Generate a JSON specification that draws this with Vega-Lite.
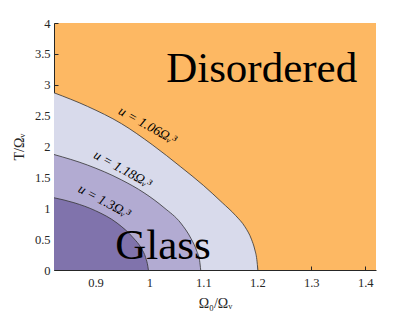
{
  "$schema": "https://vega.github.io/schema/vega-lite/v6.json",
  "autosize": {"type": "none"},
  "width": 322,
  "height": 247,
  "padding": {"left": 54, "top": 23, "right": 39, "bottom": 42},
  "background": "white",
  "view": {"fill": "#FDB863", "stroke": null},
  "config": {
    "font": "Liberation Serif",
    "axis": {
      "labelFont": "Liberation Serif",
      "titleFont": "Liberation Serif",
      "labelFontSize": 12.5,
      "titleFontSize": 14,
      "titleFontWeight": "normal",
      "labelColor": "#262626",
      "titleColor": "#262626",
      "domainColor": "#262626",
      "tickColor": "#262626",
      "tickSize": -4,
      "grid": false
    }
  },
  "datasets": {
    "curves": [
      {"u": "1.06", "x": 0.823, "y": 2.87},
      {"u": "1.06", "x": 0.885, "y": 2.65},
      {"u": "1.06", "x": 0.948, "y": 2.37},
      {"u": "1.06", "x": 1.005, "y": 2.03},
      {"u": "1.06", "x": 1.058, "y": 1.67},
      {"u": "1.06", "x": 1.100, "y": 1.37},
      {"u": "1.06", "x": 1.135, "y": 1.09},
      {"u": "1.06", "x": 1.160, "y": 0.88},
      {"u": "1.06", "x": 1.177, "y": 0.70},
      {"u": "1.06", "x": 1.189, "y": 0.50},
      {"u": "1.06", "x": 1.195, "y": 0.34},
      {"u": "1.06", "x": 1.199, "y": 0.17},
      {"u": "1.06", "x": 1.201, "y": 0},
      {"u": "1.18", "x": 0.823, "y": 1.87},
      {"u": "1.18", "x": 0.885, "y": 1.70},
      {"u": "1.18", "x": 0.948, "y": 1.46},
      {"u": "1.18", "x": 0.990, "y": 1.25},
      {"u": "1.18", "x": 1.027, "y": 1.01},
      {"u": "1.18", "x": 1.058, "y": 0.76},
      {"u": "1.18", "x": 1.077, "y": 0.51},
      {"u": "1.18", "x": 1.088, "y": 0.30},
      {"u": "1.18", "x": 1.093, "y": 0.15},
      {"u": "1.18", "x": 1.095, "y": 0},
      {"u": "1.3", "x": 0.823, "y": 1.17},
      {"u": "1.3", "x": 0.86, "y": 1.09},
      {"u": "1.3", "x": 0.90, "y": 0.96},
      {"u": "1.3", "x": 0.94, "y": 0.76},
      {"u": "1.3", "x": 0.97, "y": 0.52},
      {"u": "1.3", "x": 0.985, "y": 0.35},
      {"u": "1.3", "x": 0.993, "y": 0.20},
      {"u": "1.3", "x": 0.997, "y": 0.06},
      {"u": "1.3", "x": 0.998, "y": 0}
    ],
    "curveLabels": [
      {"label": "u = 1.06Ωᵥ³", "x": 0.990, "y": 2.24, "angle": 29},
      {"label": "u = 1.18Ωᵥ³", "x": 0.944, "y": 1.53, "angle": 29},
      {"label": "u = 1.3Ωᵥ³", "x": 0.910, "y": 1.01, "angle": 28}
    ],
    "regions": [
      {"label": "Disordered", "x": 1.208, "y": 3.05},
      {"label": "Glass", "x": 1.025, "y": 0.18}
    ]
  },
  "encoding": {
    "x": {"field": "x", "type": "quantitative", "scale": {"domain": [0.823, 1.42], "nice": false, "zero": false},
          "axis": {"values": [0.9, 1, 1.1, 1.2, 1.3, 1.4], "format": "~g", "title": "Ω₀/Ωᵥ", "labelPadding": 10, "titlePadding": 8}},
    "y": {"field": "y", "type": "quantitative", "scale": {"domain": [0, 4], "nice": false},
          "axis": {"values": [0, 0.5, 1, 1.5, 2, 2.5, 3, 3.5, 4], "format": "~g", "title": "T/Ωᵥ", "labelPadding": 8, "titlePadding": 8}}
  },
  "layer": [
    {
      "data": {"name": "curves"},
      "transform": [{"filter": "datum.u === '1.06'"}],
      "mark": {"type": "area", "interpolate": "monotone", "color": "#D8DAEB", "clip": true}
    },
    {
      "data": {"name": "curves"},
      "transform": [{"filter": "datum.u === '1.18'"}],
      "mark": {"type": "area", "interpolate": "monotone", "color": "#B2ABD2", "clip": true}
    },
    {
      "data": {"name": "curves"},
      "transform": [{"filter": "datum.u === '1.3'"}],
      "mark": {"type": "area", "interpolate": "monotone", "color": "#8073AC", "clip": true}
    },
    {
      "data": {"name": "curves"},
      "mark": {"type": "line", "interpolate": "monotone", "color": "#333333", "strokeWidth": 0.8, "clip": true},
      "encoding": {
        "detail": {"field": "u"}
      }
    },
    {
      "data": {"name": "curveLabels"},
      "mark": {"type": "text", "font": "Liberation Serif", "fontStyle": "italic", "fontSize": 13.5, "color": "black", "baseline": "bottom"},
      "encoding": {
        "text": {"field": "label"},
        "angle": {"field": "angle", "type": "quantitative", "scale": null}
      }
    },
    {
      "data": {"name": "regions"},
      "mark": {"type": "text", "font": "Liberation Serif", "fontSize": 43, "color": "black", "baseline": "alphabetic"},
      "encoding": {
        "text": {"field": "label"}
      }
    }
  ]
}
